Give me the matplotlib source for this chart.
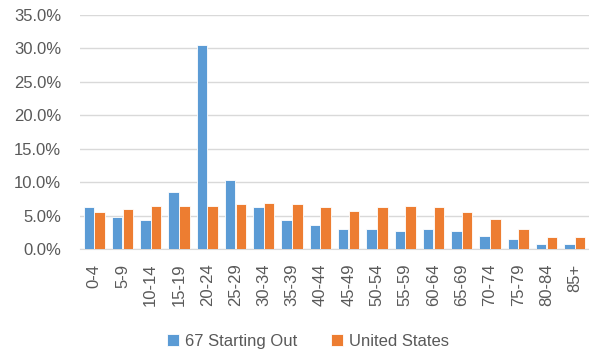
import numpy as np
import matplotlib.pyplot as plt
from matplotlib.ticker import FuncFormatter

plt.rcParams['font.family'] = ['Liberation Sans', 'DejaVu Sans']

ages = ['0-4', '5-9', '10-14', '15-19', '20-24', '25-29', '30-34', '35-39',
        '40-44', '45-49', '50-54', '55-59', '60-64', '65-69', '70-74',
        '75-79', '80-84', '85+']
starting_out = [6.25, 4.8, 4.35, 8.6, 30.45, 10.25, 6.25, 4.35,
                3.6, 2.95, 2.95, 2.7, 2.95, 2.7, 1.95, 1.5, 0.75, 0.75]
united_states = [5.5, 5.95, 6.45, 6.45, 6.45, 6.7, 6.95, 6.7,
                 6.25, 5.75, 6.25, 6.45, 6.25, 5.55, 4.55, 2.95, 1.75, 1.75]

blue = '#5B9BD5'
orange = '#ED7D31'
txt = '#595959'

fig = plt.figure(figsize=(5.89, 3.54), dpi=100)
ax = fig.add_axes([0.1358, 0.2966, 0.8642, 0.661])

x = np.arange(len(ages))
w = 0.37
ax.bar(x - 0.19, starting_out, w, color=blue, edgecolor='white', linewidth=0.6,
       label='67 Starting Out', zorder=3)
ax.bar(x + 0.19, united_states, w, color=orange, edgecolor='white', linewidth=0.6,
       label='United States', zorder=3)

ax.set_xlim(-0.5, len(ages) - 0.5)
ax.set_ylim(0, 35)
ax.set_yticks(np.arange(0, 36, 5))
ax.yaxis.set_major_formatter(FuncFormatter(lambda v, p: f'{v:.1f}%'))
ax.set_xticks(x)
ax.set_xticklabels(ages, rotation=90)
ax.grid(axis='y', color='#d9d9d9', linewidth=1, zorder=0)
for s in ['top', 'right', 'left']:
    ax.spines[s].set_visible(False)
ax.spines['bottom'].set_color('#d9d9d9')
ax.tick_params(length=0, colors=txt, labelsize=12)
ax.tick_params(axis='y', pad=13.5)
ax.tick_params(axis='x', pad=10.5)

fig.legend(loc='center', bbox_to_anchor=(0.523, 0.035), ncol=2, frameon=False,
           fontsize=12, labelcolor=txt, handlelength=0.7, handleheight=0.7,
           handletextpad=0.4, columnspacing=2.0)

fig.savefig('out.png', dpi=100)
